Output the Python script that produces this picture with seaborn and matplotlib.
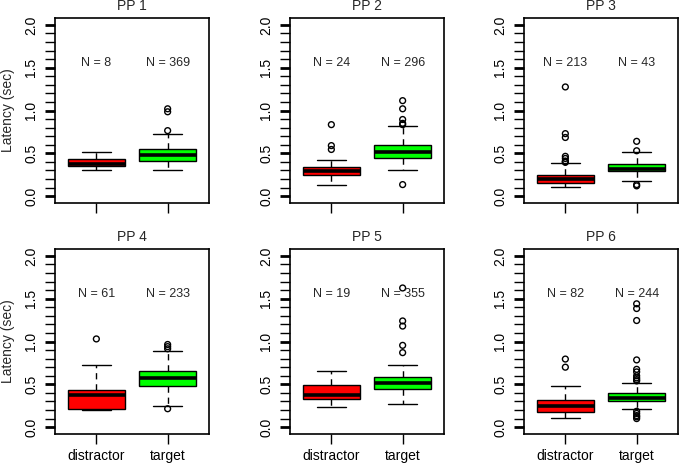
import matplotlib
matplotlib.use("Agg")
import matplotlib.pyplot as plt
import seaborn as sns
import pandas as pd
import numpy as np
from matplotlib.ticker import MultipleLocator

panel_titles = ['PP 1', 'PP 2', 'PP 3', 'PP 4', 'PP 5', 'PP 6']
conditions = ['distractor', 'target']
n_distractor = [8, 24, 213, 61, 19, 82]
n_target = [369, 296, 43, 233, 355, 244]

# five-number summaries: lower whisker, Q1, median, Q3, upper whisker
distractor_box = [
    [0.31, 0.35, 0.38, 0.435, 0.52],
    [0.135, 0.25, 0.295, 0.34, 0.425],
    [0.11, 0.15, 0.205, 0.25, 0.39],
    [0.20, 0.215, 0.38, 0.435, 0.73],
    [0.24, 0.33, 0.38, 0.495, 0.655],
    [0.105, 0.18, 0.25, 0.32, 0.475],
]
target_box = [
    [0.30, 0.405, 0.475, 0.545, 0.73],
    [0.31, 0.44, 0.52, 0.595, 0.82],
    [0.18, 0.29, 0.32, 0.375, 0.51],
    [0.245, 0.485, 0.57, 0.65, 0.89],
    [0.275, 0.45, 0.52, 0.585, 0.73],
    [0.215, 0.31, 0.34, 0.395, 0.52],
]
distractor_outliers = [
    [],
    [0.545, 0.59, 0.835],
    [0.395, 0.40, 0.41, 0.44, 0.465, 0.685, 0.73, 1.275],
    [1.03],
    [],
    [0.70, 0.795],
]
target_outliers = [
    [0.765, 0.985, 1.02],
    [0.135, 0.835, 0.85, 0.895, 1.02, 1.115],
    [0.12, 0.135, 0.53, 0.64],
    [0.215, 0.915, 0.94, 0.965],
    [0.87, 0.955, 1.18, 1.24, 1.625],
    [0.10, 0.12, 0.135, 0.16, 0.185, 0.54, 0.555, 0.575, 0.60, 0.645, 0.675, 0.785, 1.245, 1.385, 1.44],
]

sns.set_style('ticks')
plt.rcParams['font.family'] = ['Liberation Sans', 'DejaVu Sans']
plt.rcParams['axes.edgecolor'] = 'black'
plt.rcParams['xtick.color'] = 'black'
plt.rcParams['ytick.color'] = 'black'

W, H = 679, 471
lefts = [55, 290, 524]
tops = [18, 249]

fig = plt.figure(figsize=(W / 100, H / 100), dpi=100)

for i, title in enumerate(panel_titles):
    r, c = divmod(i, 3)
    ax = fig.add_axes([lefts[c] / W, (H - tops[r] - 185) / H, 154 / W, 185 / H])

    box_df = pd.DataFrame({
        'condition': np.repeat(conditions, 5),
        'latency': distractor_box[i] + target_box[i],
    })
    sns.boxplot(
        data=box_df, x='condition', y='latency', hue='condition',
        order=conditions, hue_order=conditions,
        palette=['#FF0000', '#00FF00'], saturation=1, width=0.8,
        whis=(0, 100), linecolor='black', linewidth=1, legend=False, ax=ax,
        medianprops={'color': 'black', 'linewidth': 2.6},
        whiskerprops={'color': 'black', 'linestyle': (0, (4.5, 3.5))},
        capprops={'color': 'black'},
    )

    d_out = distractor_outliers[i]
    t_out = target_outliers[i]
    out_df = pd.DataFrame({
        'condition': ['distractor'] * len(d_out) + ['target'] * len(t_out),
        'latency': d_out + t_out,
    })
    sns.stripplot(data=out_df, x='condition', y='latency', order=conditions,
                  jitter=False, color='black', size=4.2, ax=ax)
    for coll in ax.collections:
        coll.set_facecolor('none')
        coll.set_edgecolor('black')
        coll.set_linewidth(1)

    # sample sizes
    for j, n in enumerate([n_distractor[i], n_target[i]]):
        ax.text(j, 1.55, f'N = {n}', ha='center', va='center', fontsize=9)

    ax.set_xlim(-0.58, 1.58)
    ax.set_ylim(-0.08, 2.08)
    ax.set_yticks([0, 0.5, 1.0, 1.5, 2.0])
    ax.set_yticklabels(['0.0', '0.5', '1.0', '1.5', '2.0'], rotation=90, va='center')
    ax.yaxis.set_minor_locator(MultipleLocator(0.1))
    ax.tick_params(axis='y', which='major', length=7, width=2, labelsize=10, pad=5)
    ax.tick_params(axis='y', which='minor', length=7, width=1)
    ax.tick_params(axis='x', length=7, width=1, labelsize=10, pad=4)
    for sp in ax.spines.values():
        sp.set_linewidth(1.2)
        sp.set_color('black')

    ax.set_title(title, fontsize=10, pad=6)
    ax.set_xlabel('')
    if c == 0:
        ax.set_ylabel('Latency (sec)', fontsize=10, labelpad=7)
    else:
        ax.set_ylabel('')
    if r == 0:
        ax.tick_params(axis='x', labelbottom=False)

fig.savefig('out.png', dpi=100)
